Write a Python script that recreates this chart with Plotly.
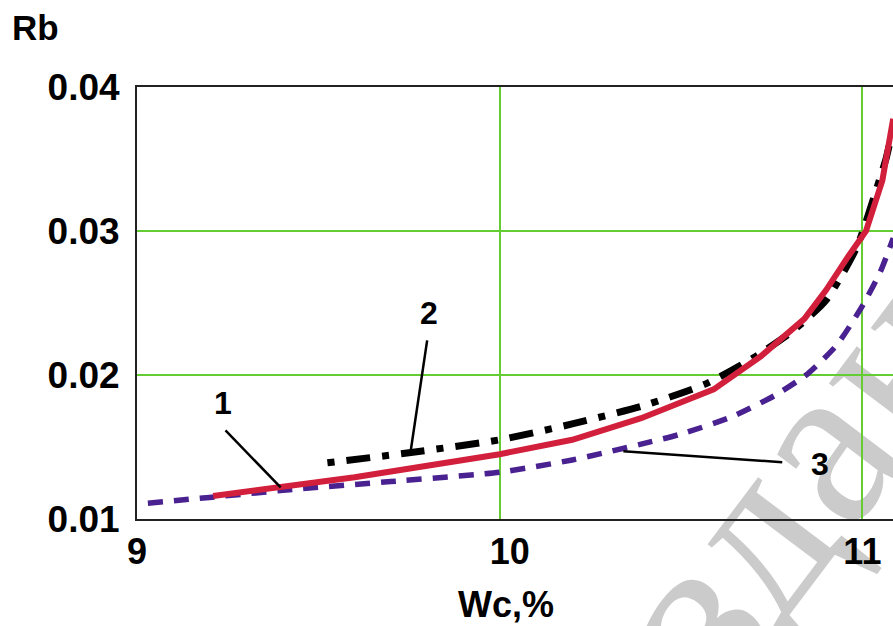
import plotly.graph_objects as go

# Curve 1 (solid red)
x1 = [9.21, 9.40, 9.60, 9.80, 10.00, 10.20, 10.39, 10.59, 10.72, 10.84, 10.90, 10.96, 11.01, 11.055, 11.085]
y1 = [0.0116, 0.0122, 0.0129, 0.0137, 0.0145, 0.0155, 0.0170, 0.0190, 0.0213, 0.0239, 0.0259, 0.0282, 0.0300, 0.0335, 0.0378]

# Curve 2 (black dash-dot)
x2 = [9.525, 9.75, 10.00, 10.20, 10.40, 10.57, 10.70, 10.81, 10.90, 10.985, 11.04, 11.066, 11.085]
y2 = [0.0139, 0.0146, 0.0155, 0.0166, 0.0179, 0.0194, 0.0212, 0.0231, 0.0252, 0.0289, 0.0330, 0.0351, 0.0372]

# Curve 3 (violet dashed)
x3 = [9.03, 9.20, 9.45, 9.70, 10.00, 10.20, 10.39, 10.50, 10.64, 10.76, 10.85, 10.93, 11.00, 11.05, 11.085]
y3 = [0.0111, 0.0115, 0.0121, 0.0126, 0.01325, 0.0141, 0.0152, 0.0159, 0.0171, 0.0186, 0.0201, 0.0221, 0.0248, 0.0272, 0.0295]

# Curve labels and their leader lines (label position, line start, line end)
label_text = ["1", "2", "3"]
label_x = [9.238, 9.804, 10.882]
label_y = [0.01809, 0.02434, 0.01385]
lead_x0 = [9.244, 9.800, 10.341]
lead_y0 = [0.01615, 0.02240, 0.01471]
lead_x1 = [9.396, 9.754, 10.779]
lead_y1 = [0.01219, 0.01462, 0.01394]

x_ticks = [9, 10, 11]
x_ticktext = ["9", "\u00a0\u00a010", "11"]
y_ticks = [0.01, 0.02, 0.03, 0.04]
y_ticktext = ["0.01", "0.02", "0.03", "0.04"]

fig = go.Figure()
fig.add_trace(go.Scatter(x=x3, y=y3, mode="lines", line=dict(color="#4a2190", width=5.5, dash="15px,11px", shape="spline", smoothing=0.6), showlegend=False))
fig.add_trace(go.Scatter(x=x2, y=y2, mode="lines", line=dict(color="#000000", width=7, dash="7px,12px,24px,12px", shape="spline", smoothing=0.6), showlegend=False))
fig.add_trace(go.Scatter(x=x1, y=y1, mode="lines", line=dict(color="#d21f3c", width=6), showlegend=False))

shapes = []
# publisher watermark underneath the data
shapes.append(dict(type="line", xref="paper", yref="paper", x0=0.872, x1=0.892, y0=0.226, y1=0.226,
                   line=dict(color="rgba(0,0,0,0)", width=1), layer="below",
                   label=dict(text="издание", textangle=-53, textposition="middle",
                              xanchor="center", yanchor="middle", padding=0,
                              font=dict(family="Liberation Serif", size=235, color="#cbcbcb"))))
for i in range(len(label_text)):
    shapes.append(dict(type="line", xref="x", yref="y", x0=lead_x0[i], y0=lead_y0[i], x1=lead_x1[i], y1=lead_y1[i],
                       line=dict(color="black", width=2.5)))
fig.update_layout(shapes=shapes)

annotations = []
for t, ax_, ay_ in zip(label_text, label_x, label_y):
    annotations.append(dict(x=ax_, y=ay_, xref="x", yref="y", text=t, showarrow=False,
                            font=dict(family="Liberation Sans", size=32, color="black", weight="bold")))
annotations.append(dict(x=-0.168, y=1.137, xref="paper", yref="paper", text="Rb", showarrow=False,
                        xanchor="left", yanchor="middle",
                        font=dict(family="Liberation Sans", size=35, color="black", weight="bold")))
annotations.append(dict(x=0.488, y=-0.199, xref="paper", yref="paper", text="Wc,%", showarrow=False,
                        xanchor="center", yanchor="middle",
                        font=dict(family="Liberation Sans", size=36, color="black", weight="bold")))
fig.update_layout(annotations=annotations)

fig.update_xaxes(range=[9, 11.0844], tickvals=x_ticks, ticktext=x_ticktext,
                 showgrid=True, gridcolor="#66cc33", gridwidth=2, zeroline=False,
                 showline=True, linecolor="#222222", linewidth=2, mirror=True,
                 ticks="", ticklabelstandoff=0,
                 tickfont=dict(family="Liberation Sans", size=36, color="black", weight="bold"))
fig.update_yaxes(range=[0.01, 0.04], tickvals=y_ticks, ticktext=y_ticktext,
                 showgrid=True, gridcolor="#66cc33", gridwidth=2, zeroline=False,
                 showline=True, linecolor="#222222", linewidth=2, mirror=False,
                 ticks="", ticklabelstandoff=8,
                 tickfont=dict(family="Liberation Sans", size=37, color="black", weight="bold"))

fig.update_layout(width=893, height=626, margin=dict(l=137, r=0, t=87, b=107),
                  plot_bgcolor="white", paper_bgcolor="white")

fig.write_html("out.html")
